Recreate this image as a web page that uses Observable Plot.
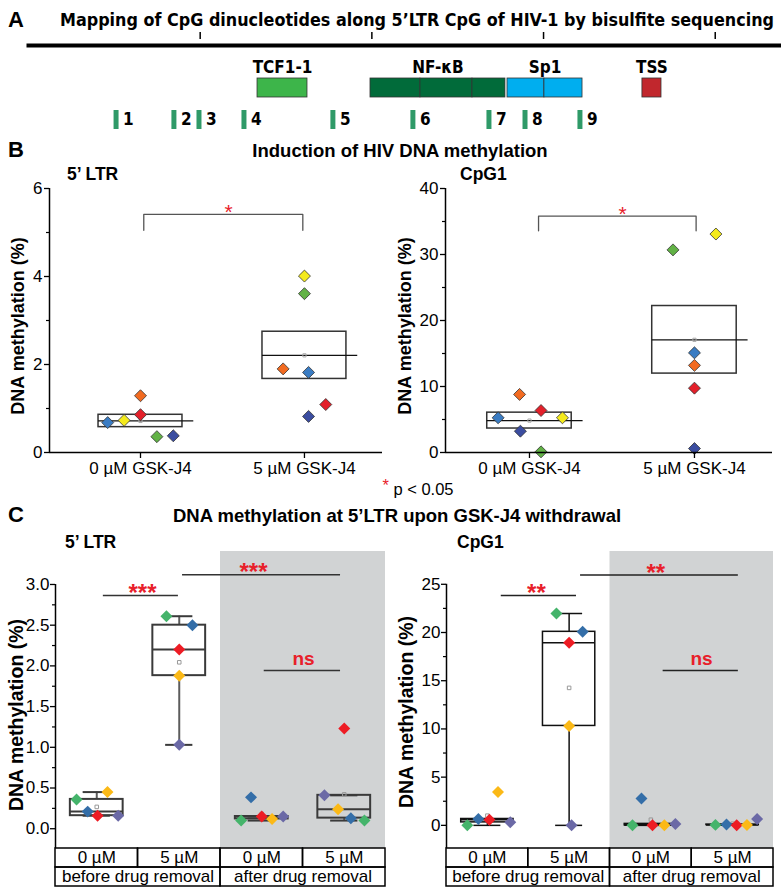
<!DOCTYPE html>
<html>
<head>
<meta charset="utf-8">
<script src="https://cdn.jsdelivr.net/npm/d3@7"></script>
<script src="https://cdn.jsdelivr.net/npm/@observablehq/plot@0.6"></script>
<style>
  body { margin: 0; background: #fff; }
  #fig { position: relative; width: 781px; height: 893px; overflow: hidden; background: #fff;
         font-family: "Liberation Sans", Arial, sans-serif; color: #000; }
  .abs { position: absolute; white-space: nowrap; line-height: 1; }
</style>
</head>
<body>
<div id="fig"></div>
<script>
// ================= DATA =================
// ---- Panel A: schematic of the 5'LTR (positions in bp along the drawn region) ----
const ltrExtentBp = [0, 438.6];
const ltrTickBp = [100, 200, 300, 400];
const featureNames  = ["TCF1-1", "NF-κB", "NF-κB", "NF-κB", "Sp1", "Sp1", "TSS"];
const featureStarts = [133.4, 199.2, 228.3, 258.6, 279.0, 300.5, 357.6];
const featureEnds   = [162.5, 228.3, 258.6, 277.8, 300.5, 322.7, 368.7];
const featureColors = ["#3db54a", "#016b3a", "#016b3a", "#016b3a", "#00aeef", "#00aeef", "#c1272d"];
const cpgIds = ["1", "2", "3", "4", "5", "6", "7", "8", "9"];
const cpgBp  = [51.0, 84.7, 99.3, 125.5, 177.3, 223.9, 268.2, 289.2, 321.2];

// ---- Panel B: induction of DNA methylation (donor order: blue, yellow, orange, red, green, navy) ----
const bGroups = ["0 µM GSK-J4", "5 µM GSK-J4"];
const bDonorColors = ["#3a7cc3", "#f4ea1c", "#f26b21", "#e3202a", "#62b246", "#3b4da0"];
const bLtr0 = [0.68, 0.73, 1.29, 0.86, 0.36, 0.38];
const bLtr5 = [1.82, 4.01, 1.90, 1.09, 3.61, 0.82];
const bCpg0 = [5.26, 5.26, 8.80, 6.36, 0.10, 3.23];
const bCpg5 = [15.1, 33.1, 13.2, 9.75, 30.7, 0.60];
const bLtrJitter0 = [-0.20, -0.10, 0, 0, 0.10, 0.20];
const bLtrJitter5 = [0.025, 0, -0.13, 0.13, 0, 0.025];
const bCpgJitter0 = [-0.19, 0.20, -0.06, 0.07, 0.07, -0.055];
const bCpgJitter5 = [0, 0.13, 0, 0, -0.13, 0];
const bLtrTicks = [0, 2, 4, 6];
const bLtrMinor = [1, 3, 5];
const bCpgTicks = [0, 10, 20, 30, 40];
const bCpgMinor = [5, 15, 25, 35];
const bLtrBracketY = [5.05, 5.41];
const bLtrBracketX = [0.02, 0.99, 0.537];   // left leg, right leg, star
const bCpgBracketY = [33.6, 35.8];
const bCpgBracketX = [0.055, 1.01, 0.564];

// ---- Panel C: withdrawal (donor order: green, blue, red, yellow, purple) ----
const cColumns = ["0 µM", "5 µM", "0 µM", "5 µM"];
const cPhases = ["before drug removal", "after drug removal"];
const cColumnPhase = [0, 0, 1, 1];
const cDonorColors = ["#45b46b", "#346ea8", "#ed1c24", "#fbb917", "#6b69a6"];
const cLtrBefore0 = [0.36, 0.21, 0.16, 0.45, 0.16];
const cLtrBefore5 = [2.61, 2.50, 2.20, 1.88, 1.03];
const cLtrAfter0  = [0.10, 0.385, 0.15, 0.12, 0.15];
const cLtrAfter5  = [0.10, 0.13, 1.23, 0.24, 0.41];
const cCpgBefore0 = [0.00, 0.66, 0.59, 3.47, 0.31];
const cCpgBefore5 = [21.97, 20.07, 18.93, 10.31, 0.00];
const cCpgAfter0  = [0.00, 2.78, 0.00, 0.00, 0.15];
const cCpgAfter5  = [0.05, 0.08, 0.02, 0.03, 0.66];
const cLtrJitter = [[-0.245, -0.11, 0.01, 0.13, 0.26], [-0.155, 0.16, 0, 0, 0], [-0.25, -0.13, 0, 0.125, 0.26], [0.245, 0.08, 0, -0.075, -0.24]];
const cCpgJitter = [[-0.245, -0.11, 0.025, 0.13, 0.28], [-0.155, 0.165, 0, 0, 0.03], [-0.225, -0.115, 0.02, 0.165, 0.30], [-0.21, -0.075, 0.05, 0.175, 0.30]];
const cLtrTicks = [0, 0.5, 1, 1.5, 2, 2.5, 3];
const cLtrMinor = [0.25, 0.75, 1.25, 1.75, 2.25, 2.75];
const cCpgTicks = [0, 5, 10, 15, 20, 25];
const cCpgMinor = [2.5, 7.5, 12.5, 17.5, 22.5];
const cLtrSigLabels = ["***", "***", "ns"];
const cLtrSigY = [2.865, 3.12, 1.943];
const cLtrSigFrom = [0.08, 1.04, 2.03];
const cLtrSigTo = [0.99, 2.955, 2.955];
const cLtrSigLabelX = [0.555, 1.90, 2.506];
const cCpgSigLabels = ["**", "**", "ns"];
const cCpgSigY = [23.83, 25.97, 16.05];
const cCpgSigFrom = [0.17, 1.14, 2.15];
const cCpgSigTo = [1.09, 3.07, 3.07];
const cCpgSigLabelX = [0.60, 2.06, 2.62];

// ================= HELPERS =================
const SANS = "'Liberation Sans', Arial, Helvetica, sans-serif";
const NARROW = "'Liberation Sans Narrow', 'Arial Narrow', 'DejaVu Sans Condensed', sans-serif";
const RED = "#e8202a";
const fig = document.getElementById("fig");
const baseStyle = {fontFamily: SANS, fontSize: "17px", color: "#000", background: "transparent", overflow: "visible"};

function place(node, left, top) {
  node.style.position = "absolute";
  node.style.left = left + "px";
  node.style.top = top + "px";
  fig.appendChild(node);
  return node;
}
function label(html, {x, y, size = 16, weight = "normal", anchor = "start", color = "#000", family = SANS, rotate = false}) {
  const d = document.createElement("div");
  d.className = "abs";
  d.innerHTML = html;
  Object.assign(d.style, {fontSize: size + "px", fontWeight: weight, fontFamily: family, color, left: x + "px", top: y + "px"});
  const tx = anchor === "middle" ? "-50%" : anchor === "end" ? "-100%" : "0";
  d.style.transform = rotate ? "translate(-50%,-50%) rotate(-90deg)" : `translate(${tx},-50%)`;
  fig.appendChild(d);
}

// ================= PANEL A =================
const features = featureNames.map((name, i) => ({name, start: featureStarts[i], end: featureEnds[i], color: featureColors[i]}));
const featureGroups = d3.rollups(features, v => (d3.min(v, d => d.start) + d3.max(v, d => d.end)) / 2, d => d.name)
  .map(([name, center]) => ({name, center}));
const cpgs = cpgIds.map((id, i) => ({id, bp: cpgBp[i]}));

const plotA = Plot.plot({
  width: 781, height: 140, marginLeft: 28, marginRight: 0, marginTop: 45, marginBottom: 0,
  style: baseStyle,
  x: {domain: ltrExtentBp, axis: null},
  y: {type: "band", domain: ["feature", "cpg"], range: [77.5, 129.5], paddingInner: 0.42, paddingOuter: 0, axis: null},
  marks: [
    Plot.frame({anchor: "top", stroke: "#000", strokeWidth: 4}),
    Plot.axisX({anchor: "top", ticks: ltrTickBp, tickSize: 7, insetTop: -7, tickFormat: () => "", label: null, strokeWidth: 1.5}),
    Plot.barX(features, {x1: "start", x2: "end", y: () => "feature", fill: "color", stroke: "#333", strokeWidth: 0.8, inset: 0}),
    Plot.text(featureGroups, {x: "center", y: () => "feature", text: "name", dy: -20, fontSize: 17, fontWeight: "bold", fontFamily: NARROW}),
    Plot.tickX(cpgs, {x: "bp", y: () => "cpg", stroke: "#2f9a68", strokeWidth: 5}),
    Plot.text(cpgs, {x: "bp", y: () => "cpg", text: "id", dx: 7, textAnchor: "start", fontSize: 17, fontWeight: "bold", fontFamily: NARROW})
  ]
});
place(plotA, 0, 0);

// ================= PANEL B =================
function plotB({vals, jit, ticks, minor, xDomain, yDomain, bracketY, bracketX, width, marginLeft, marginRight}) {
  const points = [];
  vals.forEach((arr, g) => arr.forEach((v, i) => points.push({x: g + jit[g][i], v, c: bDonorColors[i]})));
  const stats = vals.map((arr, g) => {
    const m = d3.mean(arr), se = d3.deviation(arr) / Math.sqrt(arr.length);
    return {g, m, lo: m - se, hi: m + se};
  });
  const bracketPath = [
    {x: bracketX[0], y: bracketY[0]}, {x: bracketX[0], y: bracketY[1]},
    {x: bracketX[1], y: bracketY[1]}, {x: bracketX[1], y: bracketY[0]}
  ];
  return Plot.plot({
    width, height: 315, marginTop: 18, marginBottom: 33, marginLeft, marginRight,
    style: baseStyle,
    x: {domain: xDomain, axis: null},
    y: {domain: yDomain, axis: null},
    color: {type: "identity"},
    marks: [
      Plot.rect(stats, {x1: d => d.g - 0.256, x2: d => d.g + 0.256, y1: "lo", y2: "hi", fill: "none", stroke: "#333", strokeWidth: 1.5}),
      Plot.ruleY(stats, {y: "m", x1: d => d.g - 0.256, x2: d => d.g + 0.325, stroke: "#111", strokeWidth: 1.3}),
      Plot.dot(stats, {x: "g", y: "m", symbol: "square", r: 1.8, stroke: "#aaa", fill: "none", strokeWidth: 1}),
      Plot.line(bracketPath, {x: "x", y: "y", stroke: "#555", strokeWidth: 1.3}),
      Plot.text([{x: bracketX[2], y: bracketY[1]}], {x: "x", y: "y", text: () => "*", fill: RED, fontSize: 21, dy: -2}),
      Plot.dot(points, {x: "x", y: "v", symbol: "diamond2", r: 5.4, fill: "c", stroke: "#333", strokeWidth: 0.8}),
      Plot.ruleX([xDomain[0]], {stroke: "#000", strokeWidth: 1.5}),
      Plot.ruleY([yDomain[0]], {stroke: "#000", strokeWidth: 1.5}),
      Plot.axisY({ticks, tickSize: 5, tickPadding: 2, fontSize: 17, tickFormat: d3.format("d"), label: null, strokeWidth: 1.3}),
      Plot.axisY({ticks: minor, tickSize: 3, tickFormat: () => "", label: null, strokeWidth: 1.2}),
      Plot.axisX({ticks: [0, 1], tickFormat: i => bGroups[i], tickSize: 6, tickPadding: 3, fontSize: 17, label: null, strokeWidth: 1.3})
    ]
  });
}
place(plotB({vals: [bLtr0, bLtr5], jit: [bLtrJitter0, bLtrJitter5], ticks: bLtrTicks, minor: bLtrMinor,
  xDomain: [-0.555, 1.476], yDomain: [0, 6], bracketY: bLtrBracketY, bracketX: bLtrBracketX, width: 390, marginLeft: 49, marginRight: 8}), 0, 170);
place(plotB({vals: [bCpg0, bCpg5], jit: [bCpgJitter0, bCpgJitter5], ticks: bCpgTicks, minor: bCpgMinor,
  xDomain: [-0.509, 1.473], yDomain: [0, 40], bracketY: bCpgBracketY, bracketX: bCpgBracketX, width: 391, marginLeft: 55, marginRight: 9}), 390, 170);

// ================= PANEL C =================
function boxStats(arr, c) {
  const s = d3.sort(arr);
  const q1 = d3.quantile(s, 0.25), med = d3.quantile(s, 0.5), q3 = d3.quantile(s, 0.75), iqr = q3 - q1;
  const lo = d3.min(s.filter(v => v >= q1 - 1.5 * iqr));
  const hi = d3.max(s.filter(v => v <= q3 + 1.5 * iqr));
  return {c, q1, med, q3, lo, hi, mean: d3.mean(s)};
}
function plotC({cols, jit, yDomain, ticks, minor, tickFormat, sig, width, marginLeft, marginRight, boxStroke, boxWidth, whiskerStroke, whiskerWidth, sigStroke}) {
  const points = [];
  cols.forEach((arr, c) => arr.forEach((v, i) => points.push({x: c + jit[c][i], v, col: cDonorColors[i]})));
  const stats = cols.map(boxStats);
  const afterIdx = cColumnPhase.map((p, i) => p === 1 ? i : null).filter(i => i !== null);
  const shade = [{x1: d3.min(afterIdx) - 0.5, x2: d3.max(afterIdx) + 0.5}];
  const sigData = sig.labels.map((t, i) => ({t, y: sig.y[i], x1: sig.from[i], x2: sig.to[i], lx: sig.lx[i]}));
  const hw = 0.32, cw = 0.165;
  return Plot.plot({
    width, height: 309, marginTop: 11, marginBottom: 1, marginLeft, marginRight,
    style: baseStyle,
    x: {domain: [-0.5, 3.5], axis: null},
    y: {domain: yDomain, axis: null},
    color: {type: "identity"},
    marks: [
      Plot.rect(shade, {x1: "x1", x2: "x2", fill: "#d1d3d4"}),
      Plot.ruleX([-0.5], {y1: yDomain[0], y2: d3.max(ticks), stroke: "#000", strokeWidth: 1.5}),
      Plot.axisY({ticks, tickSize: 5, tickPadding: 1, fontSize: 17, tickFormat, label: null, strokeWidth: 1.3}),
      Plot.axisY({ticks: minor, tickSize: 3, tickFormat: () => "", label: null, strokeWidth: 1.2}),
      Plot.ruleX(stats, {x: "c", y1: "lo", y2: "q1", stroke: whiskerStroke, strokeWidth: whiskerWidth}),
      Plot.ruleX(stats, {x: "c", y1: "q3", y2: "hi", stroke: whiskerStroke, strokeWidth: whiskerWidth}),
      Plot.ruleY(stats, {y: "lo", x1: d => d.c - cw, x2: d => d.c + cw, stroke: boxStroke, strokeWidth: boxWidth}),
      Plot.ruleY(stats, {y: "hi", x1: d => d.c - cw, x2: d => d.c + cw, stroke: boxStroke, strokeWidth: boxWidth}),
      Plot.rect(stats, {x1: d => d.c - hw, x2: d => d.c + hw, y1: "q1", y2: "q3", fill: "none", stroke: boxStroke, strokeWidth: boxWidth}),
      Plot.ruleY(stats, {y: "med", x1: d => d.c - hw, x2: d => d.c + hw, stroke: boxStroke, strokeWidth: boxWidth}),
      Plot.dot(stats, {x: "c", y: "mean", symbol: "square", r: 2, stroke: "#999", fill: "none", strokeWidth: 1}),
      Plot.dot(points, {x: "x", y: "v", symbol: "diamond2", r: 5.4, fill: "col"}),
      Plot.ruleY(sigData, {y: "y", x1: "x1", x2: "x2", stroke: sigStroke, strokeWidth: 1.5}),
      Plot.text(sigData.filter(d => d.t !== "ns"), {x: "lx", y: "y", text: "t", fill: RED, fontSize: 24, fontWeight: "bold", dy: -2}),
      Plot.text(sigData.filter(d => d.t === "ns"), {x: "lx", y: "y", text: "t", fill: RED, fontSize: 19, fontWeight: "bold", dy: -12})
    ]
  });
}
function plotTable({width, marginLeft, marginRight}) {
  const cells = [
    ...cColumns.map((t, i) => ({row: "dose", x1: i - 0.5, x2: i + 0.5, t})),
    ...cPhases.map((t, p) => {
      const idx = cColumnPhase.map((q, i) => q === p ? i : null).filter(i => i !== null);
      return {row: "phase", x1: d3.min(idx) - 0.5, x2: d3.max(idx) + 0.5, t};
    })
  ];
  return Plot.plot({
    width, height: 40, marginTop: 1, marginBottom: 1, marginLeft, marginRight,
    style: baseStyle,
    x: {domain: [-0.5, 3.5], axis: null},
    y: {type: "band", domain: ["dose", "phase"], padding: 0, axis: null},
    marks: [
      Plot.barX(cells, {x1: "x1", x2: "x2", y: "row", fill: "none", stroke: "#000", strokeWidth: 1.5, inset: 0}),
      Plot.text(cells, {x: d => (d.x1 + d.x2) / 2, y: "row", text: "t", fontSize: 17})
    ]
  });
}
place(plotC({cols: [cLtrBefore0, cLtrBefore5, cLtrAfter0, cLtrAfter5], jit: cLtrJitter, yDomain: [-0.243, 3.405],
  ticks: cLtrTicks, minor: cLtrMinor, tickFormat: d3.format(".1f"),
  sig: {labels: cLtrSigLabels, y: cLtrSigY, from: cLtrSigFrom, to: cLtrSigTo, lx: cLtrSigLabelX},
  width: 390, marginLeft: 55, marginRight: 5, boxStroke: "#3a3a3a", boxWidth: 2, whiskerStroke: "#5c5c5c", whiskerWidth: 2, sigStroke: "#333"}), 0, 540);
place(plotTable({width: 390, marginLeft: 55, marginRight: 5}), 0, 847);
place(plotC({cols: [cCpgBefore0, cCpgBefore5, cCpgAfter0, cCpgAfter5], jit: cCpgJitter, yDomain: [-2.4, 28.4],
  ticks: cCpgTicks, minor: cCpgMinor, tickFormat: d3.format("d"),
  sig: {labels: cCpgSigLabels, y: cCpgSigY, from: cCpgSigFrom, to: cCpgSigTo, lx: cCpgSigLabelX},
  width: 391, marginLeft: 56, marginRight: 8, boxStroke: "#111", boxWidth: 1.5, whiskerStroke: "#111", whiskerWidth: 1.5, sigStroke: "#222"}), 390, 540);
place(plotTable({width: 391, marginLeft: 56, marginRight: 8}), 390, 847);

// ================= TEXT =================
const titleA = document.createElementNS("http://www.w3.org/2000/svg", "svg");
titleA.setAttribute("width", 781); titleA.setAttribute("height", 40);
const tA = document.createElementNS("http://www.w3.org/2000/svg", "text");
tA.setAttribute("x", 60); tA.setAttribute("y", 26);
tA.setAttribute("textLength", 714); tA.setAttribute("lengthAdjust", "spacingAndGlyphs");
tA.setAttribute("font-size", 15); tA.setAttribute("font-weight", "bold"); tA.setAttribute("font-family", NARROW);
tA.setAttribute("transform", "translate(0,26) scale(1,1.2) translate(0,-26)");
tA.textContent = "Mapping of CpG dinucleotides along 5’LTR CpG of HIV-1 by bisulfite sequencing";
titleA.appendChild(tA);
place(titleA, 0, 0);

label("A", {x: 8, y: 20, size: 22, weight: "bold"});
label("B", {x: 8, y: 150, size: 22, weight: "bold"});
label("C", {x: 8, y: 515, size: 22, weight: "bold"});
label("Induction of HIV DNA methylation", {x: 400, y: 151, size: 18.5, weight: "bold", anchor: "middle"});
label("DNA methylation at 5’LTR upon GSK-J4 withdrawal", {x: 397, y: 516, size: 18.5, weight: "bold", anchor: "middle"});
label("5’ LTR", {x: 67, y: 175, size: 17.5, weight: "bold"});
label("CpG1", {x: 460, y: 175, size: 17.5, weight: "bold"});
label("5’ LTR", {x: 65, y: 543, size: 17.5, weight: "bold"});
label("CpG1", {x: 457, y: 543, size: 17.5, weight: "bold"});
label("DNA methylation (%)", {x: 18, y: 326, size: 18, weight: "bold", rotate: true});
label("DNA methylation (%)", {x: 405, y: 326, size: 18, weight: "bold", rotate: true});
label("DNA methylation (%)", {x: 17, y: 715, size: 19.5, weight: "bold", rotate: true});
label("DNA methylation (%)", {x: 407, y: 712, size: 19.5, weight: "bold", rotate: true});
label(`<span style="color:${RED};position:relative;top:-4px">*</span> p &lt; 0.05`, {x: 418, y: 489, size: 16.5, anchor: "middle"});
</script>
</body>
</html>
